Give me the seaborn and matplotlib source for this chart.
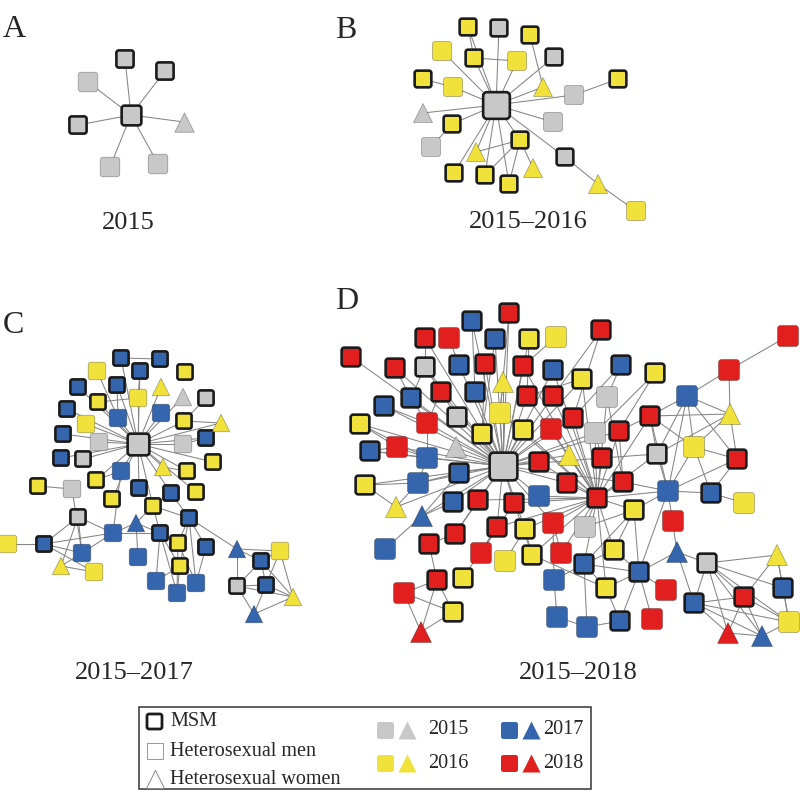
import numpy as np
import pandas as pd
import seaborn as sns
import matplotlib.pyplot as plt
from matplotlib.path import Path
from matplotlib.collections import LineCollection
from matplotlib.patches import Rectangle

# colores por año de diagnóstico
YEAR_COLORS = {'2015': '#c8c8c8', '2016': '#f0e23b', '2017': '#3465ad', '2018': '#e11f1f'}
SERIF = 'Liberation Serif'

# ---------------- Panel A (2015) ----------------
a_ids = ['a0', 'a1', 'a2', 'a3', 'a4', 'a5', 'a6', 'a7']
a_x = [131, 125, 165, 88, 78, 184, 110, 158]
a_y = [115, 59, 71, 82, 125, 122, 167, 164]
a_year = [2015] * 8
a_group = ['M', 'M', 'M', 'H', 'M', 'W', 'H', 'H']
a_hub_links = ['a1', 'a2', 'a3', 'a4', 'a5', 'a6', 'a7']
a_links = []

# ---------------- Panel B (2015-2016) ----------------
b_ids = ['b0', 'b1', 'b2', 'b3', 'b4', 'b5', 'b6', 'b7', 'b8', 'b9',
         'b10', 'b11', 'b12', 'b13', 'b14', 'b15', 'b16', 'b17', 'b18', 'b19',
         'b20', 'b21', 'b22', 'b23', 'b24', 'b25']
b_x = [496, 468, 499, 530, 442, 474, 517, 554, 423, 453,
       543, 574, 618, 423, 452, 553, 431, 520, 476, 565,
       533, 454, 485, 509, 598, 636]
b_y = [105, 27, 28, 35, 51, 58, 61, 57, 79, 87,
       87, 95, 79, 113, 124, 122, 147, 140, 152, 157,
       168, 173, 175, 184, 184, 211]
b_year = [2015, 2016, 2015, 2016, 2016, 2016, 2016, 2015, 2016, 2016,
          2016, 2015, 2016, 2015, 2016, 2015, 2015, 2016, 2016, 2015,
          2016, 2016, 2016, 2016, 2016, 2016]
b_group = ['M', 'M', 'M', 'M', 'H', 'M', 'H', 'M', 'M', 'H',
           'W', 'H', 'M', 'W', 'M', 'H', 'H', 'M', 'W', 'M',
           'W', 'M', 'M', 'M', 'W', 'H']
b_hub_links = ['b1', 'b2', 'b4', 'b5', 'b6', 'b7', 'b9', 'b10', 'b11', 'b13',
               'b14', 'b15', 'b17', 'b18', 'b19', 'b21', 'b22', 'b23']
b_links = [('b1', 'b5'), ('b5', 'b6'), ('b3', 'b10'), ('b8', 'b9'), ('b11', 'b12'),
           ('b14', 'b16'), ('b17', 'b18'), ('b17', 'b22'), ('b17', 'b23'),
           ('b17', 'b20'), ('b19', 'b24'), ('b24', 'b25')]

# ---------------- Panel C (2015-2017) ----------------
c_ids = ['c%d' % i for i in range(61)]
c_x = [138, 121, 160, 140, 97, 185, 78, 117, 161, 183,
       206, 98, 138, 67, 118, 161, 184, 221, 86, 63,
       99, 183, 206, 61, 83, 213, 121, 163, 187, 38,
       72, 96, 139, 171, 196, 112, 153, 78, 189, 136,
       113, 160, 8, 44, 82, 178, 206, 237, 280, 138,
       180, 61, 94, 261, 156, 196, 177, 237, 266, 293,
       254]
c_y = [444, 358, 359, 371, 371, 372, 387, 385, 387, 397,
       398, 402, 398, 409, 418, 413, 421, 423, 424, 434,
       442, 444, 438, 458, 459, 462, 471, 467, 471, 486,
       489, 480, 488, 493, 492, 499, 506, 517, 518, 523,
       533, 533, 544, 544, 553, 543, 547, 549, 551, 557,
       566, 566, 572, 561, 581, 583, 593, 586, 585, 597,
       614]
c_year = [2015, 2017, 2017, 2017, 2016, 2016, 2017, 2017, 2016, 2015,
          2015, 2016, 2016, 2017, 2017, 2017, 2016, 2016, 2016, 2017,
          2015, 2015, 2017, 2017, 2015, 2016, 2017, 2016, 2016, 2016,
          2015, 2016, 2017, 2017, 2016, 2016, 2016, 2015, 2017, 2017,
          2017, 2017, 2016, 2017, 2017, 2016, 2017, 2017, 2016, 2017,
          2016, 2016, 2016, 2017, 2017, 2017, 2017, 2015, 2017, 2016,
          2017]
c_group = ['M', 'M', 'M', 'M', 'H', 'M', 'M', 'M', 'W', 'W',
           'M', 'M', 'H', 'M', 'H', 'H', 'M', 'W', 'H', 'M',
           'H', 'H', 'M', 'M', 'M', 'M', 'H', 'W', 'M', 'M',
           'H', 'M', 'M', 'M', 'M', 'M', 'M', 'M', 'M', 'W',
           'H', 'M', 'H', 'M', 'H', 'M', 'M', 'W', 'H', 'H',
           'M', 'W', 'H', 'M', 'H', 'H', 'H', 'M', 'M', 'W',
           'W']
c_hub_links = ['c1', 'c3', 'c7', 'c12', 'c8', 'c15', 'c9', 'c16', 'c17', 'c22',
               'c21', 'c25', 'c28', 'c27', 'c32', 'c36', 'c26', 'c35', 'c31', 'c24',
               'c19', 'c20', 'c18', 'c14', 'c11', 'c13', 'c23', 'c33', 'c34', 'c6']
c_links = [('c1', 'c2'), ('c3', 'c12'), ('c7', 'c14'), ('c11', 'c12'), ('c4', 'c14'),
           ('c10', 'c16'), ('c16', 'c17'), ('c22', 'c21'), ('c27', 'c28'), ('c29', 'c30'),
           ('c30', 'c44'), ('c31', 'c26'), ('c26', 'c40'), ('c37', 'c43'), ('c37', 'c40'),
           ('c37', 'c44'), ('c37', 'c51'), ('c42', 'c43'), ('c43', 'c40'), ('c43', 'c44'),
           ('c43', 'c52'), ('c51', 'c44'), ('c51', 'c52'), ('c44', 'c40'), ('c40', 'c39'),
           ('c40', 'c41'), ('c39', 'c49'), ('c39', 'c36'), ('c39', 'c41'), ('c41', 'c36'),
           ('c41', 'c45'), ('c41', 'c54'), ('c41', 'c56'), ('c41', 'c50'), ('c36', 'c32'),
           ('c36', 'c38'), ('c36', 'c33'), ('c33', 'c38'), ('c38', 'c45'), ('c38', 'c46'),
           ('c38', 'c50'), ('c38', 'c55'), ('c38', 'c47'), ('c45', 'c56'), ('c45', 'c55'),
           ('c50', 'c54'), ('c50', 'c56'), ('c46', 'c55'), ('c47', 'c57'), ('c47', 'c48'),
           ('c47', 'c53'), ('c57', 'c53'), ('c57', 'c58'), ('c57', 'c60'), ('c53', 'c48'),
           ('c53', 'c58'), ('c58', 'c59'), ('c58', 'c60'), ('c48', 'c59'), ('c60', 'c59'),
           ('c53', 'c59'), ('c58', 'c48'), ('c57', 'c59')]

# ---------------- Panel D (2015-2018) ----------------
d_ids = ['d34', 'd1', 'd2', 'd3', 'd4', 'd5', 'd6', 'd7', 'd8', 'd9',
         'd10', 'd11', 'd12', 'd13', 'd14', 'd15', 'd16', 'd17', 'd18', 'd19',
         'd20', 'd21', 'd22', 'd23', 'd24', 'd25', 'd26', 'd27', 'd28', 'd29',
         'd30', 'd31', 'd32', 'd33', 'd35', 'd36', 'd37', 'd38', 'd39', 'd40',
         'd41', 'd42', 'd43', 'd44', 'd45', 'd46', 'd47', 'd48', 'd49', 'd50',
         'd51', 'd52', 'd53', 'd54', 'd55', 'd56', 'd57', 'd58', 'd59', 'd60',
         'd61', 'd62', 'd63', 'd64', 'd65', 'd66', 'd67', 'd68', 'd69', 'd70',
         'd71', 'd72', 'd73', 'd74', 'd75', 'd76', 'd77', 'd78', 'd79', 'd80',
         'e1', 'e3', 'e4', 'e5', 'e6', 'e7', 'e8', 'e9', 'e11', 'e12',
         'e13', 'e14', 'e15', 'e16', 'e17', 'e18', 'e19', 'e20', 'e21', 'e22',
         'e23', 'e24', 'e25', 'e26']
d_x = [503, 509, 472, 425, 449, 495, 529, 556, 351, 395,
       425, 459, 485, 523, 553, 503, 411, 441, 475, 527,
       553, 384, 500, 457, 360, 427, 482, 523, 551, 573,
       370, 397, 456, 427, 539, 569, 365, 459, 418, 567,
       396, 422, 453, 478, 514, 539, 553, 497, 525, 455,
       385, 429, 481, 505, 532, 561, 584, 614, 639, 554,
       606, 437, 463, 404, 453, 421, 557, 677, 707, 777,
       666, 694, 744, 783, 587, 620, 652, 789, 728, 762,
       601, 621, 655, 788, 729, 607, 687, 582, 650, 730,
       595, 619, 657, 694, 737, 602, 623, 597, 668, 711,
       744, 634, 673, 585]
d_y = [466, 313, 321, 338, 338, 339, 339, 337, 357, 368,
       367, 365, 364, 366, 370, 382, 398, 392, 392, 396,
       396, 406, 413, 417, 424, 423, 434, 430, 429, 418,
       451, 447, 447, 458, 462, 455, 485, 473, 483, 483,
       507, 516, 502, 500, 503, 496, 523, 527, 529, 534,
       549, 544, 553, 561, 555, 553, 564, 550, 572, 580,
       588, 580, 578, 593, 612, 632, 617, 552, 563, 555,
       590, 603, 597, 588, 627, 621, 619, 622, 633, 636,
       330, 365, 373, 336, 370, 397, 396, 379, 416, 414,
       433, 431, 454, 447, 459, 458, 482, 498, 491, 493,
       503, 510, 521, 527]
d_year = [2015, 2018, 2017, 2018, 2018, 2017, 2016, 2016, 2018, 2018,
          2015, 2017, 2018, 2018, 2017, 2016, 2017, 2018, 2017, 2018,
          2018, 2017, 2016, 2015, 2016, 2018, 2016, 2016, 2018, 2018,
          2017, 2018, 2015, 2017, 2018, 2016, 2016, 2017, 2017, 2018,
          2016, 2017, 2017, 2018, 2018, 2017, 2018, 2018, 2016, 2018,
          2017, 2018, 2018, 2016, 2016, 2018, 2017, 2016, 2017, 2017,
          2016, 2018, 2016, 2018, 2016, 2018, 2017, 2017, 2015, 2016,
          2018, 2017, 2018, 2017, 2017, 2017, 2018, 2016, 2018, 2017,
          2018, 2017, 2016, 2018, 2018, 2015, 2017, 2016, 2018, 2016,
          2015, 2018, 2015, 2016, 2018, 2018, 2018, 2018, 2017, 2017,
          2016, 2016, 2018, 2015]
d_group = ['M', 'M', 'M', 'M', 'H', 'M', 'M', 'H', 'M', 'M',
           'M', 'M', 'M', 'M', 'M', 'W', 'M', 'M', 'M', 'M',
           'M', 'M', 'H', 'M', 'M', 'H', 'M', 'M', 'H', 'M',
           'M', 'H', 'W', 'H', 'M', 'W', 'M', 'M', 'H', 'M',
           'W', 'W', 'M', 'M', 'M', 'H', 'H', 'M', 'M', 'M',
           'H', 'M', 'H', 'H', 'M', 'H', 'M', 'M', 'M', 'H',
           'M', 'M', 'M', 'H', 'M', 'W', 'H', 'W', 'M', 'W',
           'H', 'M', 'M', 'M', 'H', 'M', 'H', 'H', 'W', 'W',
           'M', 'M', 'M', 'H', 'H', 'H', 'H', 'M', 'M', 'W',
           'H', 'M', 'M', 'H', 'M', 'M', 'M', 'M', 'H', 'M',
           'H', 'M', 'H', 'H']
d_hub_links = ['d1', 'd2', 'd3', 'd5', 'd6', 'd8', 'd9', 'd10', 'd11', 'd12',
               'd13', 'd14', 'd15', 'd16', 'd17', 'd18', 'd19', 'd20', 'd21', 'd22',
               'd23', 'd24', 'd25', 'd26', 'd27', 'd28', 'd29', 'd30', 'd31', 'd32',
               'd33', 'd35', 'd36', 'd37', 'd38', 'd39', 'd40', 'd41', 'd42', 'd43',
               'd44', 'd45', 'd46', 'd47', 'd48', 'd49', 'd50', 'e9', 'e13', 'e14',
               'e18', 'e19']
# segundo nodo con muchas conexiones
e20_links = ['d35', 'd36', 'd40', 'e18', 'e19', 'd46', 'd45', 'd47', 'e26', 'e24',
             'd29', 'e13', 'e14', 'd28', 'd27', 'd20', 'd19', 'e7', 'e9', 'd49',
             'd55', 'd56', 'd58', 'd61', 'e15', 'e21', 'e11', 'd13', 'd14', 'd22',
             'd44', 'd48', 'd57']
d_links = [('e1', 'd29'), ('e3', 'e7'), ('e4', 'e13'), ('e5', 'e6'), ('e6', 'e8'),
           ('e8', 'e11'), ('e8', 'e12'), ('e8', 'e15'), ('e8', 'e16'), ('e8', 'e17'),
           ('e8', 'e21'), ('e11', 'e12'), ('e11', 'e15'), ('e11', 'e16'), ('e11', 'e14'),
           ('e11', 'e21'), ('e12', 'e15'), ('e12', 'e16'), ('e12', 'e17'), ('e16', 'e21'),
           ('e16', 'e17'), ('e16', 'e22'), ('e15', 'e21'), ('e15', 'e18'), ('e17', 'e22'),
           ('e17', 'e21'), ('e21', 'e22'), ('e21', 'e24'), ('e21', 'e19'), ('e21', 'd59'),
           ('e22', 'e23'), ('e24', 'd58'), ('e24', 'd59'), ('e24', 'd57'), ('e24', 'e26'),
           ('d59', 'd58'), ('d59', 'd61'), ('d59', 'd76'), ('d59', 'd77'), ('d59', 'd68'),
           ('d59', 'd57'), ('d59', 'd71'), ('d57', 'd60'), ('d57', 'd61'), ('d57', 'd75'),
           ('d57', 'd58'), ('d60', 'd67'), ('d67', 'd75'), ('d75', 'd76'), ('d76', 'd61'),
           ('d68', 'd69'), ('d68', 'd72'), ('d68', 'e21'), ('d69', 'e27'), ('d69', 'd72'),
           ('d69', 'd73'), ('d69', 'd70'), ('d69', 'd74'), ('d69', 'd78'), ('d69', 'd80'),
           ('d69', 'd79'), ('d72', 'd73'), ('d72', 'd79'), ('d72', 'd78'), ('d73', 'd70'),
           ('d73', 'd80'), ('d73', 'd78'), ('d73', 'd79'), ('d74', 'd78'), ('d70', 'd78'),
           ('d79', 'd80'), ('d80', 'd78'), ('d72', 'd80'), ('d74', 'd70'),
           ('d51', 'd42'), ('d42', 'd38'), ('d42', 'd43'), ('d41', 'd37'), ('d41', 'd39'),
           ('d37', 'd39'), ('d39', 'd33'), ('d39', 'd38'), ('d52', 'd50'), ('d52', 'd62'),
           ('d62', 'd64'), ('d62', 'd65'), ('d62', 'd66'), ('d64', 'd66'), ('d64', 'd65'),
           ('d65', 'd66'), ('d63', 'd48'), ('d53', 'd48'), ('d54', 'd49'), ('d55', 'd49'),
           ('d55', 'd45'), ('d56', 'd47'), ('d55', 'd61'), ('d50', 'd44'), ('d53', 'd45'),
           ('d60', 'd47'), ('d3', 'd10'), ('d4', 'd11'), ('d1', 'd22'), ('d2', 'd18'),
           ('d5', 'd26'), ('d6', 'd19'), ('d7', 'd13'), ('d24', 'd33'), ('d24', 'd31'),
           ('d30', 'd33'), ('d21', 'd25'), ('d16', 'd25'), ('d17', 'd25'), ('d25', 'd33'),
           ('d31', 'd33'), ('d31', 'd30'), ('d10', 'd23'), ('d10', 'd16'), ('d9', 'd16'),
           ('d15', 'd22'), ('d12', 'd26'), ('e1', 'd20'), ('e9', 'd19'), ('e7', 'e19'),
           ('e13', 'e18'), ('e14', 'e19'), ('e3', 'd29'), ('e4', 'e14'), ('e6', 'e12')]


def rounded_square(r=0.28, n=7):
    """Marcador cuadrado con esquinas redondeadas."""
    pts = []
    for cx, cy, a0 in [(1 - r, 1 - r, 0), (-1 + r, 1 - r, 90), (-1 + r, -1 + r, 180), (1 - r, -1 + r, 270)]:
        for t in np.radians(np.linspace(a0, a0 + 90, n)):
            pts.append((cx + r * np.cos(t), cy + r * np.sin(t)))
    pts.append(pts[0])
    return Path(pts, closed=True)


SQUARE = rounded_square()


def draw_panel(ax, ids, xs, ys, years, groups, hub_links, links, base_px, hub_px, extra=None):
    """Dibuja las aristas y los nodos de una red."""
    df = pd.DataFrame({'id': ids, 'x': xs, 'y': ys,
                       'year': [str(v) for v in years], 'group': groups})
    df['hub'] = df.index == 0
    pos = dict(zip(df['id'], zip(df['x'], df['y'])))
    pairs = [(ids[0], n) for n in hub_links] + list(links)
    if extra is not None:
        pairs += extra
    segs = [[pos[a], pos[b]] for a, b in pairs if a in pos and b in pos]
    ax.add_collection(LineCollection(segs, colors='#858585', linewidths=0.75, zorder=1))

    for (grp, hub), sub in df.groupby(['group', 'hub']):
        px = hub_px if hub else base_px
        if grp == 'M':
            ec, lw = '#1b1b1b', 1.9
            px = px - 2.3
        else:
            ec, lw = (0, 0, 0, 0.3), 0.6
        marker = '^' if grp == 'W' else SQUARE
        sns.scatterplot(data=sub, x='x', y='y', hue='year', palette=YEAR_COLORS,
                        marker=marker, s=(px * 0.72) ** 2, edgecolor=ec, linewidth=lw,
                        legend=False, ax=ax, zorder=3)


sns.set_style('white')
fig = plt.figure(figsize=(8, 7.91), dpi=100)
ax = fig.add_axes([0, 0, 1, 1])

draw_panel(ax, a_ids, a_x, a_y, a_year, a_group, a_hub_links, a_links, 19.5, 22)
draw_panel(ax, b_ids, b_x, b_y, b_year, b_group, b_hub_links, b_links, 19, 29)
draw_panel(ax, c_ids, c_x, c_y, c_year, c_group, c_hub_links, c_links, 17.5, 24)
draw_panel(ax, d_ids, d_x, d_y, d_year, d_group, d_hub_links, d_links, 21, 30,
           extra=[('e20', n) for n in e20_links])

# letras y periodos
for txt, x, y in [('A', 3, 37), ('B', 335, 38), ('C', 3, 333), ('D', 335, 309)]:
    ax.text(x, y, txt, fontsize=23, family=SERIF, ha='left', va='baseline')
for txt, x, y in [('2015', 128, 229), ('2015\u20132016', 528, 228),
                  ('2015\u20132017', 134, 679), ('2015\u20132018', 578, 679)]:
    ax.text(x, y, txt, fontsize=19, family=SERIF, ha='center', va='baseline')

# leyenda
ax.add_patch(Rectangle((139, 707), 452, 82, fill=False, edgecolor='#333333', linewidth=1.1, zorder=4))
ax.scatter([154], [721], marker=SQUARE, s=(15 * 0.72) ** 2, facecolor='white', edgecolor='#1b1b1b', linewidth=2.0, zorder=5)
ax.scatter([155], [751], marker='s', s=(16 * 0.72) ** 2, facecolor='white', edgecolor='#999999', linewidth=0.7, zorder=5)
ax.scatter([155], [779], marker='^', s=(18 * 0.72) ** 2, facecolor='white', edgecolor='#888888', linewidth=0.7, zorder=5)
ax.text(170, 721, 'MSM', fontsize=14.5, family=SERIF, va='center')
ax.text(170, 751, 'Heterosexual men', fontsize=14.5, family=SERIF, va='center')
ax.text(170, 780, 'Heterosexual women', fontsize=14.5, family=SERIF, va='center')
for yr, sx, sy in [('2015', 385, 730), ('2016', 385, 763), ('2017', 509, 730), ('2018', 509, 763)]:
    ax.scatter([sx], [sy], marker=SQUARE, s=(17 * 0.72) ** 2, color=YEAR_COLORS[yr], linewidth=0, zorder=5)
    ax.scatter([sx + 22], [sy], marker='^', s=(18 * 0.72) ** 2, color=YEAR_COLORS[yr], linewidth=0, zorder=5)
    ax.text(sx + 43 if yr in ('2015', '2016') else sx + 34, sy, yr, fontsize=14.5, family=SERIF, va='center')

ax.set_xlim(0, 800)
ax.set_ylim(791, 0)
ax.axis('off')
fig.savefig('out.png', dpi=100, facecolor='white')
